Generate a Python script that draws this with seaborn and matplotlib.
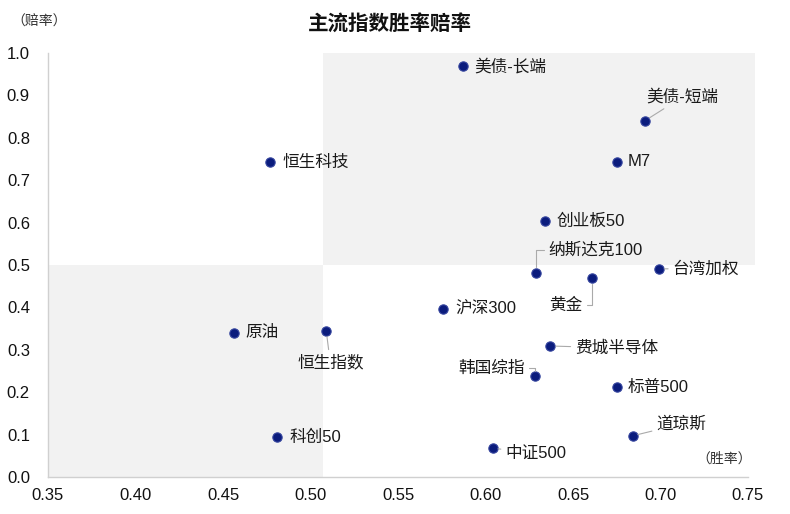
import matplotlib
matplotlib.use("Agg")
import matplotlib.pyplot as plt
import seaborn as sns
import numpy as np
import pandas as pd

names = ['美债-长端', '美债-短端', '恒生科技', 'M7', '创业板50', '纳斯达克100', '台湾加权',
         '黄金', '沪深300', '原油', '恒生指数', '费城半导体', '韩国综指', '标普500',
         '道琼斯', '科创50', '中证500']
win_rate = [0.587, 0.691, 0.477, 0.675, 0.634, 0.629, 0.699,
            0.661, 0.576, 0.456, 0.509, 0.637, 0.628, 0.675,
            0.684, 0.481, 0.604]
odds = [0.969, 0.840, 0.743, 0.743, 0.604, 0.481, 0.491,
        0.469, 0.396, 0.340, 0.344, 0.309, 0.238, 0.212,
        0.097, 0.094, 0.068]

x_ticks = [0.35, 0.40, 0.45, 0.50, 0.55, 0.60, 0.65, 0.70, 0.75]
y_ticks = [0.0, 0.1, 0.2, 0.3, 0.4, 0.5, 0.6, 0.7, 0.8, 0.9, 1.0]

# label placement: (dx px, dy px, ha, leader line style or None)
label_pos = {
    '美债-长端': (12, 0, 'left', None),
    '美债-短端': (38, 24, 'center', 'line'),
    '恒生科技': (12, 0, 'left', None),
    'M7': (11, 0, 'left', None),
    '创业板50': (12, 0, 'left', None),
    '纳斯达克100': (12, 23, 'left', 'elbow'),
    '台湾加权': (14, 0, 'left', 'line'),
    '黄金': (-10, -27, 'right', 'elbow'),
    '沪深300': (12, 0, 'left', None),
    '原油': (12, 0, 'left', None),
    '恒生指数': (4, -31, 'center', 'line'),
    '费城半导体': (25, -2, 'left', 'line'),
    '韩国综指': (-10, 8, 'right', 'elbow'),
    '标普500': (11, 0, 'left', None),
    '道琼斯': (24, 12, 'left', 'line'),
    '科创50': (12, 0, 'left', None),
    '中证500': (13, -5, 'left', 'line'),
}

sns.set_style("white")
plt.rcParams['font.family'] = ['Liberation Sans', 'Noto Sans CJK SC', 'DejaVu Sans']
cjk = ['Noto Sans CJK SC', 'DejaVu Sans']

df = pd.DataFrame({'name': names, 'win': win_rate, 'odds': odds})

fig = plt.figure(figsize=(7.9, 5.14), dpi=100)
ax = fig.add_axes([48/790, 1-477/514, 700/790, 424/514])

# shaded quadrants (high win/high odds and low win/low odds)
ax.fill_between([0.507, 0.754], 0.5, 1.0, color='#f2f2f2', zorder=0, lw=0, clip_on=False)
ax.fill_between([0.35, 0.507], 0.0, 0.5, color='#f2f2f2', zorder=0, lw=0)

sns.scatterplot(data=df, x='win', y='odds', ax=ax, s=45, color='#0b1c7d',
                edgecolor='#34449e', linewidth=0.8, zorder=3)

for n, xv, yv in zip(names, win_rate, odds):
    dx, dy, ha, style = label_pos[n]
    kw = {}
    if style == 'line':
        kw['arrowprops'] = dict(arrowstyle='-', color='#aaaaaa', lw=0.8,
                                shrinkA=1, shrinkB=4)
    elif style == 'elbow':
        rx = 0 if ha == 'left' else 1
        kw['arrowprops'] = dict(arrowstyle='-', color='#aaaaaa', lw=0.8,
                                shrinkA=1, shrinkB=4, relpos=(rx, 0.5),
                                connectionstyle='angle,angleA=0,angleB=90,rad=0')
    ax.annotate(n, (xv, yv), xytext=(dx, dy), textcoords='offset pixels',
                ha=ha, va='center', fontsize=12, color='#1a1a1a', **kw)

ax.set_xlim(0.35, 0.75)
ax.set_ylim(0, 1.0)
ax.set_xticks(x_ticks)
ax.set_xticklabels([f'{v:.2f}' for v in x_ticks])
ax.set_yticks(y_ticks)
ax.set_yticklabels([f'{v:.1f}' for v in y_ticks])
ax.tick_params(axis='both', length=0, labelsize=12, colors='#111111')
ax.tick_params(axis='y', pad=13)
ax.tick_params(axis='x', pad=8)
ax.set_xlabel('')
ax.set_ylabel('')
for s in ['top', 'right']:
    ax.spines[s].set_visible(False)
for s in ['left', 'bottom']:
    ax.spines[s].set_color('#d0d0d0')
    ax.spines[s].set_linewidth(1.0)
ax.spines['left'].set_bounds(0, 1.0)

fig.text(390/790, 1-23/514, '主流指数胜率赔率', ha='center', va='center',
         fontsize=14.8, fontweight='bold', color='#111111', family=cjk)
fig.text(39/790, 1-22/514, '（赔率）', ha='center', va='center', fontsize=10,
         color='#333333', family=cjk)
fig.text(724/790, 1-459/514, '（胜率）', ha='center', va='center', fontsize=10,
         color='#333333', family=cjk)

fig.savefig('out.png', dpi=100)
